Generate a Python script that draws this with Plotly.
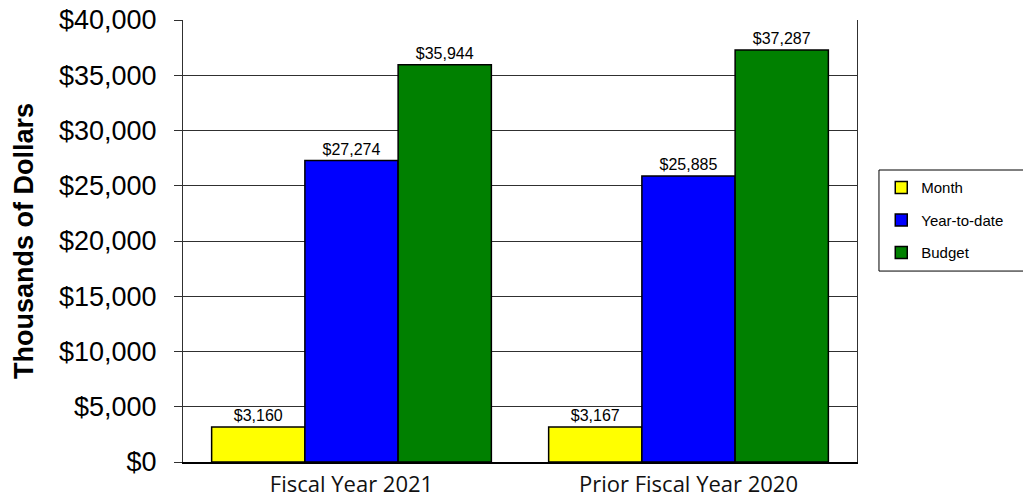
import plotly.graph_objects as go

# Category labels and series values (thousands of dollars)
categories = ["Fiscal Year 2021", "Prior Fiscal Year 2020"]
month = [3160, 3167]
year_to_date = [27274, 25885]
budget = [35944, 37287]

series = [
    ("Month", month, "#FFFF00"),
    ("Year-to-date", year_to_date, "#0000FF"),
    ("Budget", budget, "#008000"),
]

y_ticks = list(range(0, 40001, 5000))
y_tick_text = [f"${v:,}" for v in y_ticks]

fig = go.Figure()
for i, (name, vals, color) in enumerate(series):
    fig.add_trace(go.Bar(
        x=categories,
        y=vals,
        name=name,
        legendgroup=f"g{i}",
        marker=dict(color=color, line=dict(color="#000000", width=1.5)),
        text=vals,
        texttemplate="$%{y:,}",
        textposition="outside",
        textfont=dict(family="Liberation Sans, Arial", size=16, color="#000000"),
        cliponaxis=False,
    ))

fig.update_layout(
    width=1023,
    height=501,
    margin=dict(l=183, r=166, t=20, b=39),
    paper_bgcolor="#FFFFFF",
    plot_bgcolor="#FFFFFF",
    barmode="group",
    bargap=0.17,
    bargroupgap=0,
    font=dict(family="Liberation Sans, Arial", color="#000000"),
    legend=dict(
        x=1.036,
        y=0.658,
        xanchor="left",
        yanchor="top",
        bgcolor="rgba(0,0,0,0)",
        borderwidth=0,
        font=dict(family="Liberation Sans, Arial", size=15, color="#000000"),
        tracegroupgap=10,
        itemclick=False,
    ),
    xaxis=dict(
        automargin=False,
        showgrid=False,
        showline=True,
        linecolor="#000000",
        linewidth=1.5,
        mirror=False,
        ticks="",
        tickfont=dict(family="Open Sans", size=22, color="#111111"),
        ticklabelstandoff=2,
    ),
    yaxis=dict(
        automargin=False,
        range=[0, 40000],
        tickmode="array",
        tickvals=y_ticks,
        ticktext=y_tick_text,
        showgrid=True,
        gridcolor="#303030",
        gridwidth=1,
        showline=True,
        linecolor="#303030",
        linewidth=1,
        mirror=True,
        ticks="outside",
        ticklen=8,
        tickcolor="#303030",
        tickfont=dict(family="Liberation Sans, Arial", size=27, color="#000000"),
        ticklabelstandoff=12,
        zeroline=False,
        title=dict(
            text="<b>Thousands of Dollars</b>",
            font=dict(family="Liberation Sans, Arial", size=27, color="#000000"),
            standoff=17,
        ),
    ),
    shapes=[
        # legend frame
        dict(
            type="rect", xref="paper", yref="paper",
            x0=1.0326, x1=1.30, y0=0.432, y1=0.6606,
            line=dict(color="#000000", width=1),
            fillcolor="rgba(0,0,0,0)",
            layer="above",
        ),
    ],
)

fig.write_html("out.html")
